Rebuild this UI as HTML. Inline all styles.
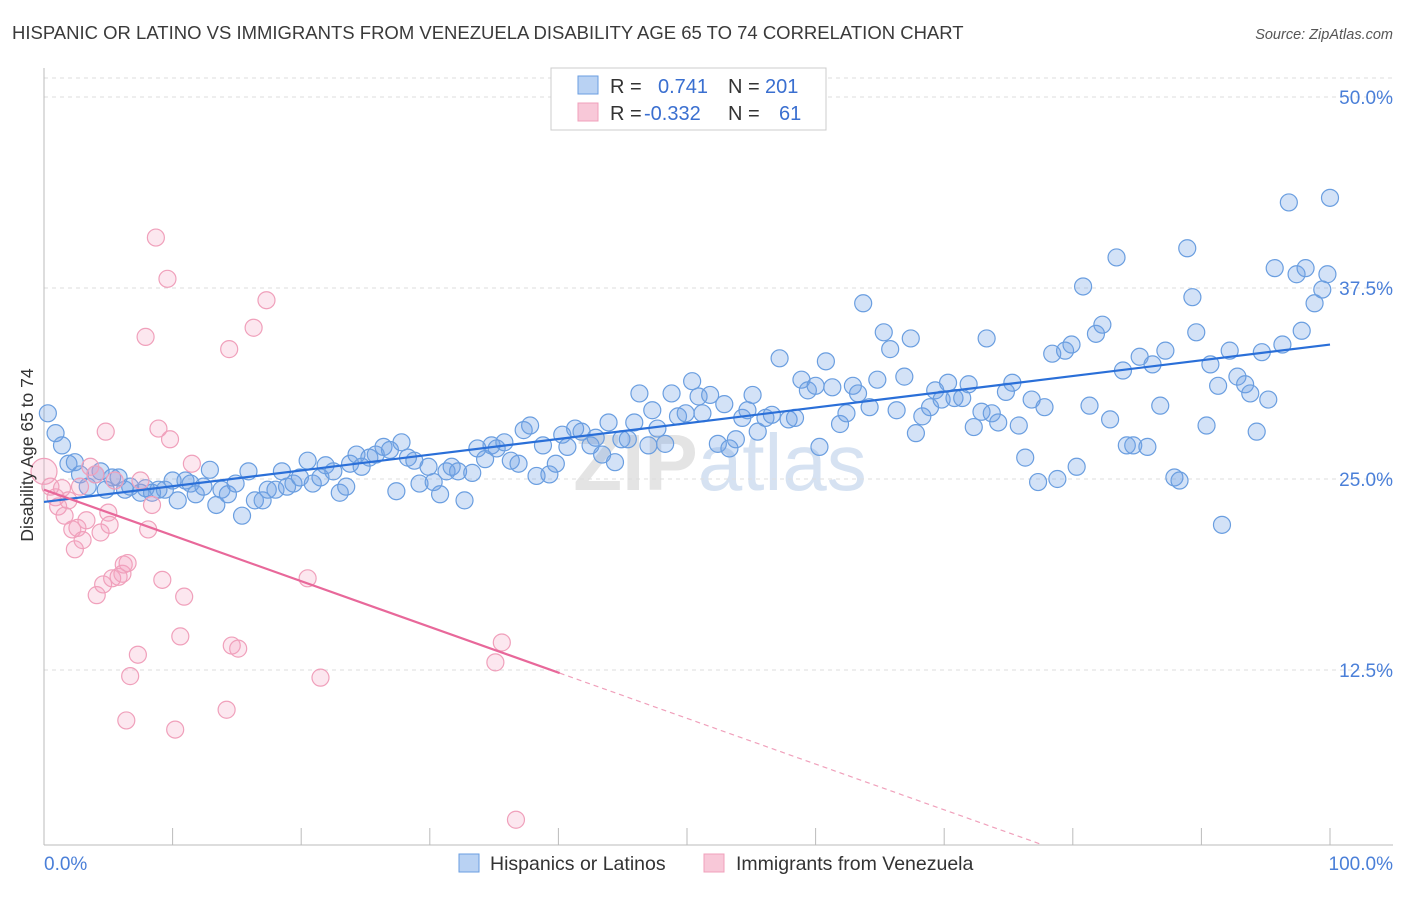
<!DOCTYPE html>
<html><head><meta charset="utf-8"><style>
body{margin:0;background:#fff;font-family:"Liberation Sans",sans-serif;}
svg text{font-family:"Liberation Sans",sans-serif;}
</style></head><body>
<svg id="chart" width="1406" height="892" viewBox="0 0 1406 892" xmlns="http://www.w3.org/2000/svg">
<text x="12" y="39" font-size="18.5" fill="#3a3a3a">HISPANIC OR LATINO VS IMMIGRANTS FROM VENEZUELA DISABILITY AGE 65 TO 74 CORRELATION CHART</text>
<text x="1393" y="39" font-size="14.5" font-style="italic" fill="#555" text-anchor="end">Source: ZipAtlas.com</text>
<text x="720" y="490" font-size="80" fill="#e4e4e4" text-anchor="middle" font-weight="bold">ZIP<tspan fill="#d6e2f2" font-weight="normal">atlas</tspan></text>
<g id="grid"></g>
<g id="axes"></g>
<g id="pts"></g>
<g id="lines"></g>
<text transform="translate(33,455) rotate(-90)" font-size="17.5" fill="#333" text-anchor="middle">Disability Age 65 to 74</text>
<text x="44" y="870" font-size="19" fill="#4a7fd8">0.0%</text>
<text x="1393" y="870" font-size="19" fill="#4a7fd8" text-anchor="end">100.0%</text>
<g>
<rect x="551" y="68" width="275" height="62" fill="#fff" stroke="#ccc"/>
<rect x="578" y="76" width="20" height="18" fill="#b9d2f3" stroke="#6a9ee0"/>
<rect x="578" y="103" width="20" height="18" fill="#f8c8d8" stroke="#f0a0bb"/>
<text x="610" y="93" font-size="20" fill="#333">R = <tspan fill="#3a6fd0" x="658">0.741</tspan><tspan x="728">N =</tspan><tspan fill="#3a6fd0" x="765">201</tspan></text>
<text x="610" y="120" font-size="20" fill="#333">R = <tspan fill="#3a6fd0" x="644">-0.332</tspan><tspan x="728">N =</tspan><tspan fill="#3a6fd0" x="779">61</tspan></text>
</g>
<g>
<rect x="459" y="854" width="20" height="18" fill="#b9d2f3" stroke="#6a9ee0"/>
<text x="490" y="870" font-size="19.5" fill="#333">Hispanics or Latinos</text>
<rect x="704" y="854" width="20" height="18" fill="#f8c8d8" stroke="#f0a0bb"/>
<text x="736" y="870" font-size="19.5" fill="#333">Immigrants from Venezuela</text>
</g>
</svg>
<script>
const blueX=[0.3,0.9,1.4,1.9,2.4,2.8,3.4,4.0,4.4,4.8,5.3,5.8,6.3,6.7,7.5,7.9,8.4,8.9,9.4,10.0,10.4,11.0,11.4,11.8,12.4,12.9,13.4,13.8,14.3,14.9,15.4,15.9,16.4,17.0,17.4,18.0,18.5,18.9,19.4,19.9,20.5,20.9,21.5,21.9,22.5,23.0,23.5,23.8,24.3,24.7,25.3,25.8,26.4,26.9,27.4,27.8,28.3,28.8,29.2,29.9,30.3,30.8,31.3,31.7,32.2,32.7,33.3,33.7,34.3,34.8,35.2,35.8,36.3,36.9,37.3,37.8,38.3,38.8,39.3,39.8,40.3,40.7,41.3,41.8,42.5,42.9,43.4,43.9,44.4,44.9,45.4,45.9,46.3,47.0,47.3,47.7,48.3,48.8,49.3,49.9,50.4,50.9,51.2,51.8,52.4,52.9,53.3,53.8,54.3,54.7,55.1,55.5,56.1,56.6,57.2,57.9,58.4,58.9,59.4,60.0,60.3,60.8,61.3,61.9,62.4,62.9,63.3,63.7,64.2,64.8,65.3,65.8,66.3,66.9,67.4,67.8,68.3,68.9,69.3,69.8,70.3,70.8,71.4,71.9,72.3,72.9,73.3,73.7,74.2,74.8,75.3,75.8,76.3,76.8,77.3,77.8,78.4,78.8,79.4,79.9,80.3,80.8,81.3,81.8,82.3,82.9,83.4,83.9,84.2,84.7,85.2,85.8,86.2,86.8,87.2,87.9,88.3,88.9,89.3,89.6,90.4,90.7,91.3,91.6,92.2,92.8,93.4,93.8,94.3,94.7,95.2,95.7,96.3,96.8,97.4,97.8,98.1,98.8,99.4,99.8,100.0];
const blueY=[29.3,28.0,27.2,26.0,26.1,25.3,24.5,25.3,25.5,24.3,25.1,25.1,24.3,24.5,24.1,24.4,24.1,24.3,24.3,24.9,23.6,24.9,24.7,24.0,24.5,25.6,23.3,24.3,24.0,24.7,22.6,25.5,23.6,23.6,24.3,24.3,25.5,24.5,24.7,25.1,26.2,24.7,25.1,25.9,25.5,24.1,24.5,26.0,26.6,25.8,26.4,26.6,27.1,26.9,24.2,27.4,26.4,26.2,24.7,25.8,24.8,24.0,25.5,25.8,25.5,23.6,25.4,27.0,26.3,27.2,27.0,27.4,26.2,26.0,28.2,28.5,25.2,27.2,25.3,26.0,27.9,27.1,28.3,28.1,27.2,27.7,26.6,28.7,26.1,27.6,27.6,28.7,30.6,27.2,29.5,28.3,27.3,30.6,29.1,29.3,31.4,30.4,29.3,30.5,27.3,29.9,27.0,27.6,29.0,29.5,30.5,28.1,29.0,29.2,32.9,28.9,29.0,31.5,30.8,31.1,27.1,32.7,31.0,28.6,29.3,31.1,30.6,36.5,29.7,31.5,34.6,33.5,29.5,31.7,34.2,28.0,29.1,29.7,30.8,30.2,31.3,30.3,30.3,31.2,28.4,29.4,34.2,29.3,28.7,30.7,31.3,28.5,26.4,30.2,24.8,29.7,33.2,25.0,33.4,33.8,25.8,37.6,29.8,34.5,35.1,28.9,39.5,32.1,27.2,27.2,33.0,27.1,32.5,29.8,33.4,25.1,24.9,40.1,36.9,34.6,28.5,32.5,31.1,22.0,33.4,31.7,31.2,30.6,28.1,33.3,30.2,38.8,33.8,43.1,38.4,34.7,38.8,36.5,37.4,38.4,43.4];
const pinkX=[0.0,0.5,0.9,1.1,1.4,1.6,1.9,2.2,2.4,2.6,2.8,3.0,3.3,3.6,4.0,4.1,4.4,4.6,4.8,5.0,5.1,5.3,5.5,5.8,6.1,6.2,6.4,6.5,6.7,7.3,7.5,7.9,8.1,8.4,8.7,8.9,9.2,9.6,9.8,10.2,10.6,10.9,11.5,14.2,14.4,14.6,15.1,16.3,17.3,20.5,21.5,35.1,35.6,36.7];
const pinkY=[25.5,24.5,23.8,23.2,24.4,22.6,23.6,21.7,20.4,21.8,24.5,21.0,22.3,25.8,25.3,17.4,21.5,18.1,28.1,22.8,22.0,18.5,24.9,18.6,18.8,19.4,9.2,19.5,12.1,13.5,24.9,34.3,21.7,23.3,40.8,28.3,18.4,38.1,27.6,8.6,14.7,17.3,26.0,9.9,33.5,14.1,13.9,34.9,36.7,18.5,12.0,13.0,14.3,2.7];
const yTicks=[12.5,25.0,37.5,50.0];
const xTicks=[0,10,20,30,40,50,60,70,80,90,100];
const blueFit=[23.5,33.8];
const pinkFit=[24.3,-0.2993];
const pinkSolidEnd=40.1;

const NS="http://www.w3.org/2000/svg";
const X=v=>44+v*12.86;
const Y=v=>861-v*15.28;
function mk(tag,attrs,parent){const e=document.createElementNS(NS,tag);for(const k in attrs)e.setAttribute(k,attrs[k]);document.getElementById(parent).appendChild(e);return e;}
mk('line',{x1:44,x2:1393,y1:78,y2:78,stroke:'#ddd','stroke-dasharray':'4,4'},'grid');
yTicks.forEach(t=>{
  const l=mk('line',{x1:44,x2:1393,y1:Y(t),y2:Y(t),stroke:'#ddd','stroke-dasharray':'4,4'},'grid');
  
  
  const tx=mk('text',{x:1393,y:Y(t)+7,'font-size':19,fill:'#4a7fd8','text-anchor':'end'},'grid');
  tx.textContent=t.toFixed(1)+'%';
  
  
});
mk('line',{x1:44,x2:44,y1:68,y2:845,stroke:'#bbb'},'axes');
mk('line',{x1:44,x2:1393,y1:845,y2:845,stroke:'#bbb'},'axes');
xTicks.forEach(t=>{
  const l=mk('line',{x1:X(t),x2:X(t),y1:828,y2:845,stroke:'#bbb'},'axes');
  
  
});
blueX.forEach((x,i)=>{
  const c=mk('circle',{cx:X(x),cy:Y(blueY[i]),r:8.5,fill:'rgba(110,160,230,0.3)',stroke:'#6a9ee0','stroke-width':1.2},'pts');
  
  
});
pinkX.forEach((x,i)=>{
  const c=mk('circle',{cx:X(x),cy:Y(pinkY[i]),r:i===0?13:8.5,fill:'rgba(244,160,190,0.25)',stroke:'#f0a0bb','stroke-width':1.2},'pts');
  
  
});
const bl=mk('line',{x1:X(0),y1:Y(blueFit[0]),x2:X(100),y2:Y(blueFit[1]),stroke:'#2a6fd8','stroke-width':2.2},'lines');


const pf=x=>pinkFit[0]+pinkFit[1]*x;
const xEnd=(1.05-pinkFit[0])/pinkFit[1];
const pl=mk('line',{x1:X(0),y1:Y(pf(0)),x2:X(pinkSolidEnd),y2:Y(pf(pinkSolidEnd)),stroke:'#e8689a','stroke-width':2.2},'lines');


const pd=mk('line',{x1:X(pinkSolidEnd),y1:Y(pf(pinkSolidEnd)),x2:X(xEnd),y2:Y(pf(xEnd)),stroke:'#f0a0bb','stroke-width':1.2,'stroke-dasharray':'5,4'},'lines');


</script>
</body></html>
